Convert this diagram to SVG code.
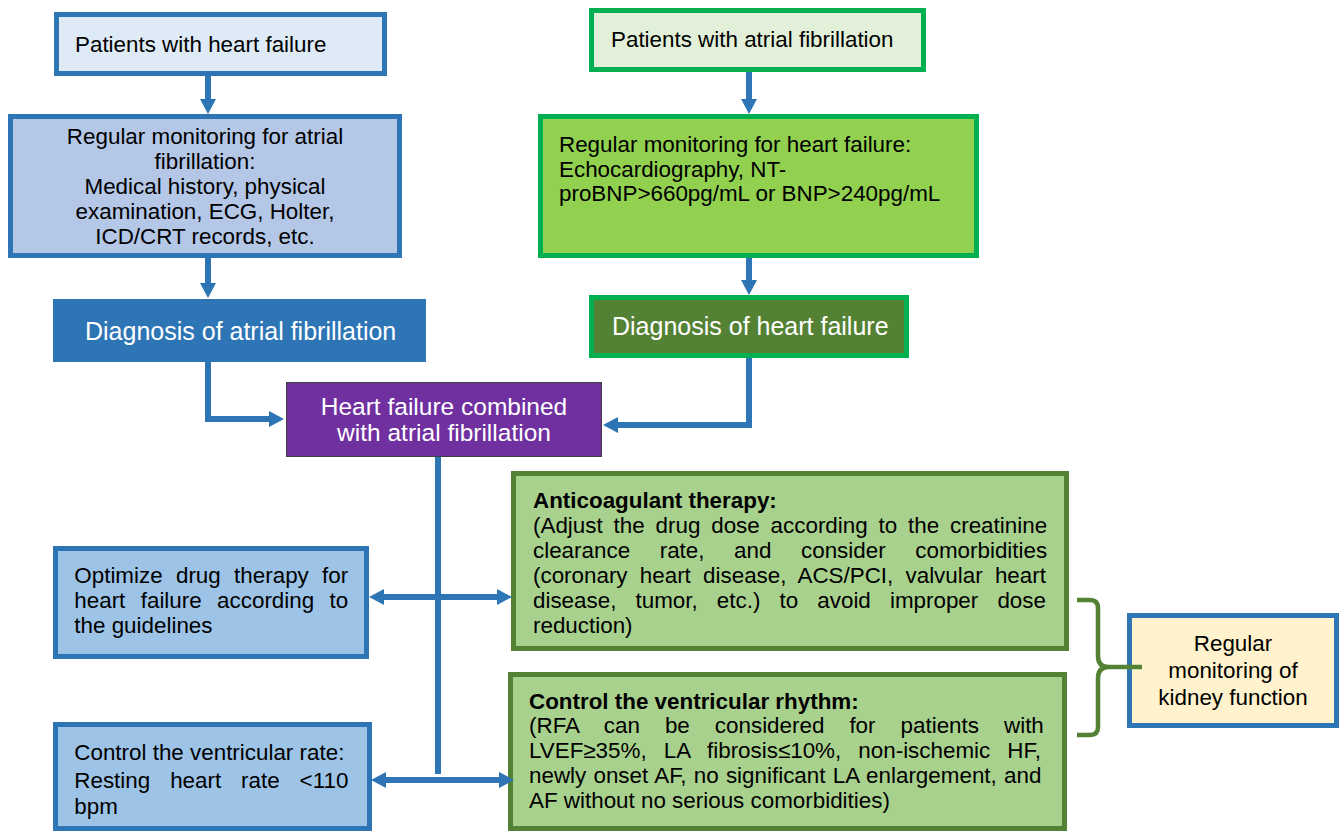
<svg xmlns="http://www.w3.org/2000/svg" width="1339" height="831" viewBox="0 0 1339 831">
<style>
text{font-family:"Liberation Sans",Arial,sans-serif;font-size:22.4px;fill:#000}
.w{fill:#fff;font-size:25px}
.p{font-size:24.5px}
.b{font-weight:bold}
.c{text-anchor:middle}
.bl{stroke:#2e75b6;stroke-width:5}
.gr{stroke:#00b050;stroke-width:5}
.dg{stroke:#548235;stroke-width:5}
.con{fill:none;stroke:#2e75b6;stroke-width:6}
</style>
<defs>
<marker id="ah" viewBox="0 0 15 16" refX="6" refY="8" markerWidth="15" markerHeight="16" markerUnits="userSpaceOnUse" orient="auto-start-reverse"><path d="M0,0 L15,8 L0,16 z" fill="#2e75b6"/></marker>
</defs>
<rect width="1339" height="831" fill="#fff"/>

<g id="n-pat-hf">
<rect class="bl" x="56.5" y="14.5" width="328" height="59" fill="#deebf7"/>
<text x="75" y="52">Patients with heart failure</text>
</g>
<g id="n-mon-af">
<rect class="bl" x="10.5" y="116.5" width="389" height="139" fill="#b4c7e7"/>
<text class="c" x="205" y="144">Regular monitoring for atrial</text>
<text class="c" x="205" y="169">fibrillation:</text>
<text class="c" x="205" y="194">Medical history, physical</text>
<text class="c" x="205" y="219">examination, ECG, Holter,</text>
<text class="c" x="205" y="244">ICD/CRT records, etc.</text>
</g>
<g id="n-diag-af">
<rect x="53" y="299" width="373" height="63" fill="#2e75b6"/>
<text class="w" x="85" y="340">Diagnosis of atrial fibrillation</text>
</g>
<g id="n-pat-af">
<rect class="gr" x="591.5" y="10.5" width="332" height="59" fill="#e2f0d9"/>
<text x="611" y="47">Patients with atrial fibrillation</text>
</g>
<g id="n-mon-hf">
<rect class="gr" x="540.5" y="116.5" width="436" height="139" fill="#92d050"/>
<text x="559" y="152">Regular monitoring for heart failure:</text>
<text x="559" y="177">Echocardiography, NT-</text>
<text x="559" y="201">proBNP&gt;660pg/mL or BNP&gt;240pg/mL</text>
</g>
<g id="n-diag-hf">
<rect class="gr" x="591.5" y="297.5" width="315" height="58" fill="#548235"/>
<text class="w" x="612" y="335">Diagnosis of heart failure</text>
</g>
<g id="n-combined">
<rect x="286.5" y="382.5" width="315" height="74" fill="#7030a0" stroke="#3f3f3f" stroke-width="1"/>
<text class="w p c" x="444" y="415">Heart failure combined</text>
<text class="w p c" x="444" y="441">with atrial fibrillation</text>
</g>
<g id="n-optimize">
<rect class="bl" x="55.5" y="548.5" width="311" height="108" fill="#9dc3e6"/>
<text x="74.3" y="582.7" word-spacing="7.1">Optimize drug therapy for</text>
<text x="74.3" y="607.7" word-spacing="9.17">heart failure according to</text>
<text x="74.3" y="632.7">the guidelines</text>
</g>
<g id="n-rate">
<rect class="bl" x="55.5" y="724.5" width="314" height="104" fill="#9dc3e6"/>
<text x="74.3" y="760">Control the ventricular rate:</text>
<text x="74.3" y="787.7" word-spacing="13.7">Resting heart rate &lt;110</text>
<text x="74.3" y="814">bpm</text>
</g>
<g id="n-anticoag">
<rect class="dg" x="513.5" y="473.5" width="553" height="175" fill="#a9d18e"/>
<text class="b" x="533" y="508">Anticoagulant therapy:</text>
<text x="533" y="533" word-spacing="4.63">(Adjust the drug dose according to the creatinine</text>
<text x="533" y="558" word-spacing="23.37">clearance rate, and consider comorbidities</text>
<text x="533" y="583" word-spacing="6.01">(coronary heart disease, ACS/PCI, valvular heart</text>
<text x="533" y="608" word-spacing="12.89">disease, tumor, etc.) to avoid improper dose</text>
<text x="533" y="633">reduction)</text>
</g>
<g id="n-rhythm">
<rect class="dg" x="510.5" y="674.5" width="554" height="154" fill="#a9d18e"/>
<text class="b" x="529" y="709">Control the ventricular rhythm:</text>
<text x="529" y="733" word-spacing="18.8">(RFA can be considered for patients with</text>
<text x="529" y="758" word-spacing="10.87">LVEF≥35%, LA fibrosis≤10%, non-ischemic HF,</text>
<text x="529" y="783" word-spacing="1.0">newly onset AF, no significant LA enlargement, and</text>
<text x="529" y="808">AF without no serious comorbidities)</text>
</g>
<g id="n-kidney">
<rect class="bl" x="1129.5" y="615.5" width="207" height="110" fill="#fff2cc"/>
<text class="c" x="1233" y="651">Regular</text>
<text class="c" x="1233" y="678">monitoring of</text>
<text class="c" x="1233" y="705">kidney function</text>
</g>

<g id="connectors">
<path class="con" d="M208,76 V105" marker-end="url(#ah)"/>
<path class="con" d="M208,258 V289" marker-end="url(#ah)"/>
<path class="con" d="M749,72 V105" marker-end="url(#ah)"/>
<path class="con" d="M749,258 V286" marker-end="url(#ah)"/>
<path class="con" d="M208,362 V419 H275" marker-end="url(#ah)"/>
<path class="con" d="M749,358 V425 H612" marker-end="url(#ah)"/>
<path class="con" d="M438,457 V774"/>
<path class="con" d="M378,597 H503" marker-start="url(#ah)" marker-end="url(#ah)"/>
<path class="con" d="M380,780 H505" marker-start="url(#ah)" marker-end="url(#ah)"/>
<path d="M1077,600 H1090 Q1098,600 1098,608 V656 Q1098,667 1109,667 H1142 M1109,667 Q1098,667 1098,678 V727 Q1098,735 1090,735 H1077" fill="none" stroke="#548235" stroke-width="4.5"/>
</g>
</svg>
